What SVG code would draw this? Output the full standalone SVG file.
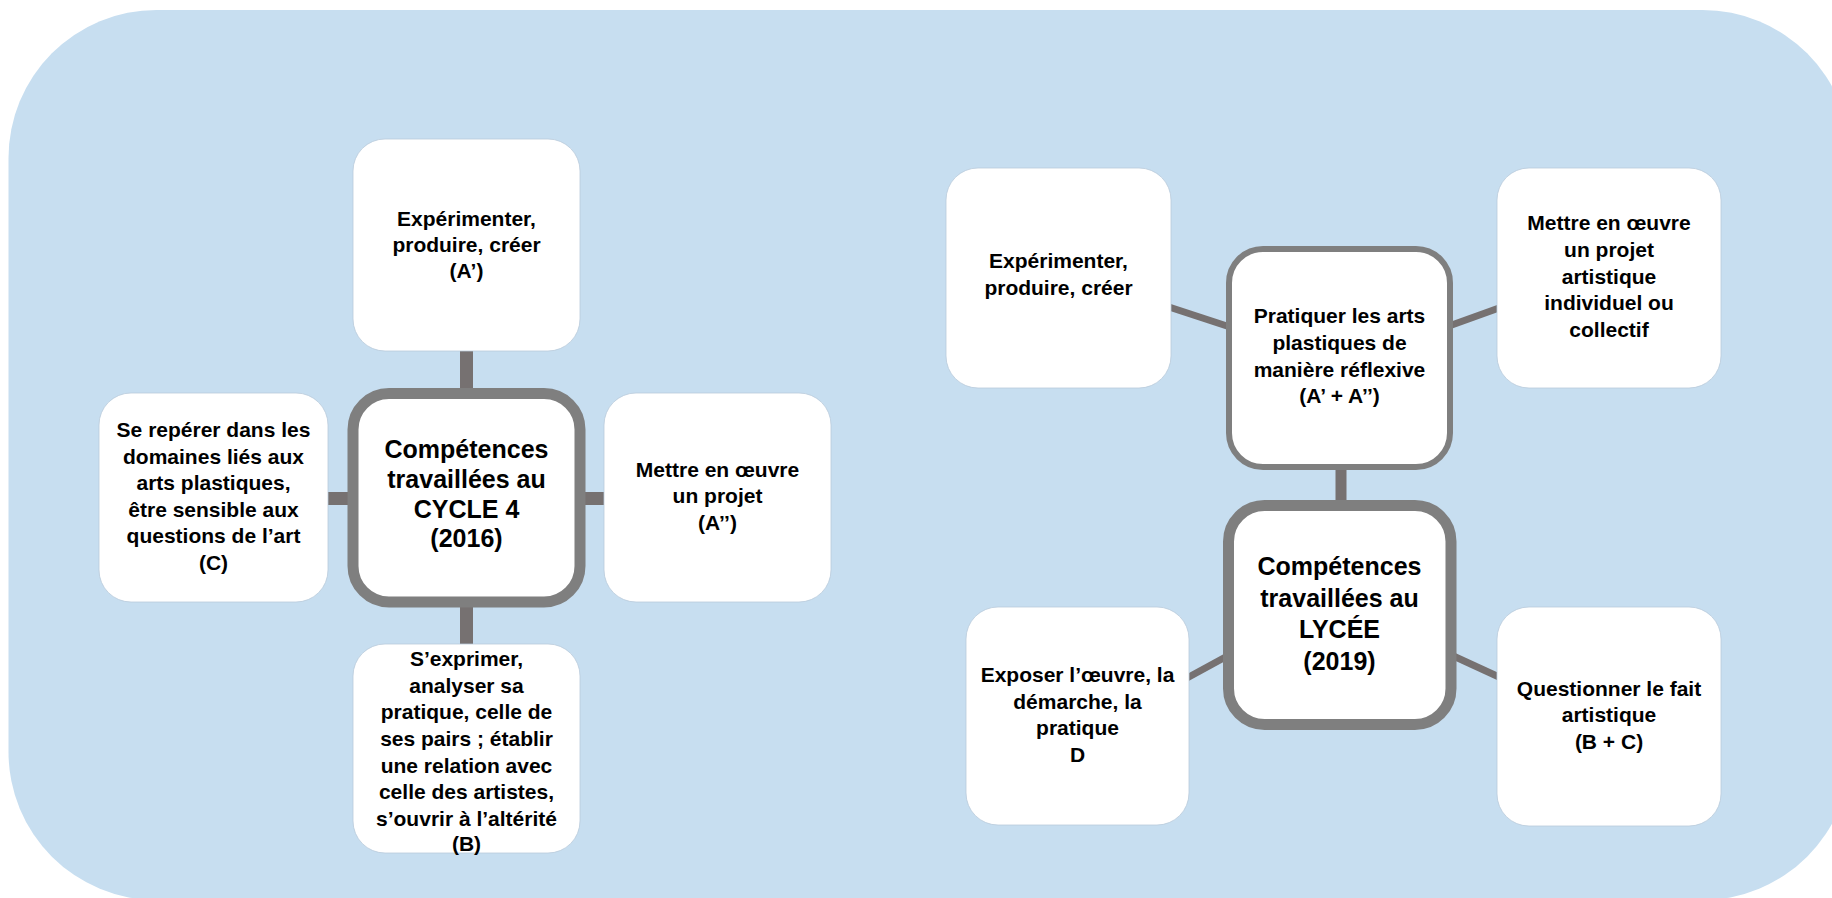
<svg xmlns="http://www.w3.org/2000/svg" width="1832" height="898" viewBox="0 0 1832 898">
<style>
.node{fill:#FFFFFF;stroke:#B9CADB;stroke-width:0.8}
.hub{fill:#FFFFFF;stroke:#7F7F7F;stroke-width:11}
.hub2{fill:#FFFFFF;stroke:#7F7F7F;stroke-width:6}
.t{font-family:"Liberation Sans",Arial,sans-serif;font-weight:bold;font-size:21px;fill:#000000;text-anchor:middle}
.h{font-family:"Liberation Sans",Arial,sans-serif;font-weight:bold;font-size:25px;fill:#000000;text-anchor:middle}
.c{stroke:#767171;fill:none}
</style>
<rect id="background" x="8.5" y="10" width="1842" height="890" rx="148" ry="148" fill="#C7DEF0"/>
<g id="connectors">
<line class="c" x1="466.5" y1="351" x2="466.5" y2="395" stroke-width="13"/>
<line class="c" x1="326" y1="498.5" x2="355" y2="498.5" stroke-width="13"/>
<line class="c" x1="578" y1="498.5" x2="606" y2="498.5" stroke-width="13"/>
<line class="c" x1="466.5" y1="600" x2="466.5" y2="646" stroke-width="13"/>
<line class="c" x1="1341" y1="466" x2="1341" y2="508" stroke-width="11"/>
<line class="c" x1="1169" y1="307" x2="1230" y2="327" stroke-width="7"/>
<line class="c" x1="1449" y1="326" x2="1499" y2="308" stroke-width="7"/>
<line class="c" x1="1187" y1="678" x2="1231" y2="654" stroke-width="7"/>
<line class="c" x1="1449" y1="654" x2="1499" y2="677" stroke-width="7"/>
</g>
<g id="c4-top">
<rect class="node" x="353" y="139" width="227" height="212" rx="32"/>
<text class="t" x="466.5" y="226">Expérimenter,</text>
<text class="t" x="466.5" y="252">produire, créer</text>
<text class="t" x="466.5" y="278">(A’)</text>
</g>
<g id="c4-left">
<rect class="node" x="99" y="393" width="229" height="209" rx="32"/>
<text class="t" x="213.5" y="437">Se repérer dans les</text>
<text class="t" x="213.5" y="463.5">domaines liés aux</text>
<text class="t" x="213.5" y="490">arts plastiques,</text>
<text class="t" x="213.5" y="516.5">être sensible aux</text>
<text class="t" x="213.5" y="543">questions de l’art</text>
<text class="t" x="213.5" y="570">(C)</text>
</g>
<g id="c4-center">
<rect class="hub" x="353" y="393.5" width="227" height="208.5" rx="36"/>
<text class="h" x="466.5" y="458">Compétences</text>
<text class="h" x="466.5" y="488">travaillées au</text>
<text class="h" x="466.5" y="518">CYCLE 4</text>
<text class="h" x="466.5" y="547">(2016)</text>
</g>
<g id="c4-right">
<rect class="node" x="604" y="393" width="227" height="209" rx="32"/>
<text class="t" x="717.5" y="477">Mettre en œuvre</text>
<text class="t" x="717.5" y="503">un projet</text>
<text class="t" x="717.5" y="529.5">(A’’)</text>
</g>
<g id="c4-bottom">
<rect class="node" x="353" y="644" width="227" height="209" rx="32"/>
<text class="t" x="466.5" y="666">S’exprimer,</text>
<text class="t" x="466.5" y="692.5">analyser sa</text>
<text class="t" x="466.5" y="719">pratique, celle de</text>
<text class="t" x="466.5" y="746">ses pairs ; établir</text>
<text class="t" x="466.5" y="772.5">une relation avec</text>
<text class="t" x="466.5" y="799">celle des artistes,</text>
<text class="t" x="466.5" y="826">s’ouvrir à l’altérité</text>
<text class="t" x="466.5" y="851">(B)</text>
</g>
<g id="ly-topleft">
<rect class="node" x="946" y="168" width="225" height="220" rx="32"/>
<text class="t" x="1058.5" y="268">Expérimenter,</text>
<text class="t" x="1058.5" y="295">produire, créer</text>
</g>
<g id="ly-practice">
<rect class="hub2" x="1229" y="249" width="221" height="218" rx="34"/>
<text class="t" x="1339.5" y="323">Pratiquer les arts</text>
<text class="t" x="1339.5" y="350">plastiques de</text>
<text class="t" x="1339.5" y="377">manière réflexive</text>
<text class="t" x="1339.5" y="403">(A’ + A’’)</text>
</g>
<g id="ly-topright">
<rect class="node" x="1497" y="168" width="224" height="220" rx="32"/>
<text class="t" x="1609" y="230">Mettre en œuvre</text>
<text class="t" x="1609" y="257">un projet</text>
<text class="t" x="1609" y="283.5">artistique</text>
<text class="t" x="1609" y="310">individuel ou</text>
<text class="t" x="1609" y="337">collectif</text>
</g>
<g id="ly-center">
<rect class="hub" x="1228.5" y="505.5" width="222.5" height="219" rx="36"/>
<text class="h" x="1339.5" y="575">Compétences</text>
<text class="h" x="1339.5" y="607">travaillées au</text>
<text class="h" x="1339.5" y="638">LYCÉE</text>
<text class="h" x="1339.5" y="670">(2019)</text>
</g>
<g id="ly-bottomleft">
<rect class="node" x="966" y="607" width="223" height="218" rx="32"/>
<text class="t" x="1077.5" y="682">Exposer l’œuvre, la</text>
<text class="t" x="1077.5" y="708.5">démarche, la</text>
<text class="t" x="1077.5" y="735">pratique</text>
<text class="t" x="1077.5" y="762">D</text>
</g>
<g id="ly-bottomright">
<rect class="node" x="1497" y="607" width="224" height="219" rx="32"/>
<text class="t" x="1609" y="696">Questionner le fait</text>
<text class="t" x="1609" y="722">artistique</text>
<text class="t" x="1609" y="749">(B + C)</text>
</g>
</svg>
